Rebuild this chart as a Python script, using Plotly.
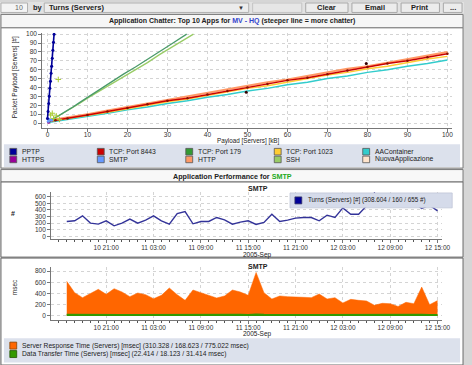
import plotly.graph_objects as go
import pandas as pd

W, H = 472, 365
FONT = "Liberation Sans, Arial, sans-serif"


def X(px):
    return px / W


def Y(py):
    return 1 - py / H


# ---------------- Chart 1: Application Chatter ----------------
app_names = ["PPTP", "TCP: Port 8443", "TCP: Port 179", "TCP: Port 1023", "AAContainer",
             "HTTPS", "SMTP", "HTTP", "SSH", "NuovaApplicazione"]
app_colors = ["#000099", "#cc0000", "#339933", "#ffcc33", "#33cccc",
              "#990099", "#6699ff", "#ff9966", "#99cc66", "#ffe4cc"]

pptp_x = [0.0, 0.15, 0.3, 0.45, 0.6, 0.75, 0.9, 1.05, 1.2, 1.35, 1.5, 1.65]
pptp_y = [5, 13, 22, 30, 39, 47, 56, 64, 73, 82, 91, 100]

low_x = [0.5, 2, 5, 10, 15, 20, 25, 30, 35, 40, 45, 50, 55, 60, 65, 70, 75, 80, 85, 90, 95, 100]
tcp8443_y = [2, 3, 5, 9, 13, 17, 21, 25, 28, 32, 36, 40, 44, 48, 51, 55, 59, 63, 67, 70, 74, 78]
http_y = [3, 4, 6, 10, 14, 18, 22, 26, 30, 34, 38, 42, 46, 49, 53, 57, 61, 64, 68, 72, 76, 80]
tcp1023_y = [2, 3, 5, 8, 12, 16, 20, 24, 27, 31, 35, 39, 42, 46, 50, 54, 57, 61, 64, 68, 72, 75]
aacont_y = [1, 2, 4, 8, 11, 15, 18, 22, 25, 29, 32, 36, 39, 43, 46, 50, 53, 57, 60, 64, 67, 71]

tcp179_x = [0.5, 2, 4, 6, 8, 10, 13, 16, 19, 22, 25, 28, 31, 34.8]
tcp179_y = [2, 6, 12, 17, 23, 29, 37, 46, 55, 63, 72, 80, 89, 100]
ssh_x = [0.5, 2, 4, 6, 8, 10, 13, 16, 19, 22, 25, 28, 31, 36.5]
ssh_y = [2, 6, 11, 17, 22, 28, 36, 44, 52, 60, 68, 77, 85, 100]
ssh_cluster_x = [0.8, 1.5, 2.2, 3.0, 1.2, 2.7]
ssh_cluster_y = [9, 5, 8, 4, 11, 49]
smtp_x = [0.2, 0.5, 1.0]
smtp_y = [2, 4, 3]
https_x = [0.3, 0.7]
https_y = [1, 3]
nuova_x = [0.4, 1.1]
nuova_y = [2, 2]
outlier_x = [49.7, 79.7]
outlier_y = [34.7, 67]

x1_ticks = [0, 10, 20, 30, 40, 50, 60, 70, 80, 90, 100]
y1_ticks = [0, 10, 20, 30, 40, 50, 60, 70, 80, 90, 100]

# ---------------- Chart 2 & 3: SMTP performance ----------------
times = pd.date_range("2005-09-10 16:00", periods=48, freq="h")
turns = [225, 235, 310, 200, 185, 235, 160, 200, 260, 200, 245, 310,
         235, 185, 345, 375, 190, 225, 225, 285, 250, 185, 215, 235,
         180, 210, 335, 225, 245, 275, 285, 285, 235, 320, 285, 430,
         335, 335, 460, 655, 510, 500, 585, 510, 510, 420, 470, 385]
resp = [616, 415, 326, 397, 474, 385, 486, 427, 344, 409, 379, 308,
        367, 498, 379, 278, 462, 415, 367, 320, 356, 462, 427, 367,
        775, 415, 302, 356, 344, 344, 332, 326, 391, 302, 326, 231,
        296, 278, 267, 190, 225, 219, 169, 243, 219, 515, 201, 273]
transfer = [24, 22, 21, 23, 25, 22, 20, 21, 23, 24, 22, 21,
            19, 22, 23, 25, 24, 22, 21, 20, 22, 23, 24, 22,
            31, 25, 22, 21, 20, 22, 23, 21, 22, 20, 21, 19,
            22, 21, 20, 18, 21, 22, 19, 23, 21, 24, 20, 22]
time_ticks = ["2005-09-10 21:00", "2005-09-11 03:00", "2005-09-11 09:00", "2005-09-11 15:00",
              "2005-09-11 21:00", "2005-09-12 03:00", "2005-09-12 09:00", "2005-09-12 15:00"]
turns_label = "Turns (Servers) [#] (308.604 / 160 / 655 #)"
resp_label = "Server Response Time (Servers) [msec] (310.328 / 168.623 / 775.022 msec)"
transfer_label = "Data Transfer Time (Servers) [msec] (22.414 / 18.123 / 31.414 msec)"
resp_color = "#ff6600"
transfer_color = "#339900"
turns_color = "#333399"

fig = go.Figure()

# chart 1 traces (draw order: lower bundle, greens, pptp)
C = dict(zip(app_names, app_colors))
fig.add_trace(go.Scatter(x=nuova_x, y=nuova_y, mode="markers", marker=dict(color=C["NuovaApplicazione"], size=3)))
fig.add_trace(go.Scatter(x=https_x, y=https_y, mode="markers", marker=dict(color=C["HTTPS"], size=3)))
fig.add_trace(go.Scatter(x=low_x, y=aacont_y, mode="lines", line=dict(color=C["AAContainer"], width=1.5)))
fig.add_trace(go.Scatter(x=low_x, y=tcp1023_y, mode="lines", line=dict(color=C["TCP: Port 1023"], width=1.5)))
fig.add_trace(go.Scatter(x=low_x, y=http_y, mode="lines", line=dict(color=C["HTTP"], width=2)))
fig.add_trace(go.Scatter(x=low_x, y=tcp8443_y, mode="lines+markers", line=dict(color=C["TCP: Port 8443"], width=1.5),
                         marker=dict(color="#881100", size=2.5)))
fig.add_trace(go.Scatter(x=outlier_x, y=outlier_y, mode="markers", marker=dict(color="#330000", size=3)))
fig.add_trace(go.Scatter(x=ssh_x, y=ssh_y, mode="lines", line=dict(color=C["SSH"], width=1.3)))
fig.add_trace(go.Scatter(x=tcp179_x, y=tcp179_y, mode="lines", line=dict(color="#4a9a6a", width=1.3)))
fig.add_trace(go.Scatter(x=ssh_cluster_x, y=ssh_cluster_y, mode="markers",
                         marker=dict(color="#bbdd44", size=4, symbol="cross-thin", line=dict(color="#aacc33", width=1))))
fig.add_trace(go.Scatter(x=smtp_x, y=smtp_y, mode="markers", marker=dict(color=C["SMTP"], size=3)))
fig.add_trace(go.Scatter(x=pptp_x, y=pptp_y, mode="lines+markers", line=dict(color=C["PPTP"], width=1.6),
                         marker=dict(color=C["PPTP"], size=3)))

# chart 2
fig.add_trace(go.Scatter(x=times, y=turns, mode="lines", line=dict(color=turns_color, width=1.4),
                         xaxis="x2", yaxis="y2"))
# chart 3
fig.add_trace(go.Scatter(x=times, y=resp, mode="lines", fill="tozeroy", fillcolor=resp_color,
                         line=dict(color=resp_color, width=0.5), xaxis="x3", yaxis="y3"))
fig.add_trace(go.Scatter(x=times, y=transfer, mode="lines", fill="tozeroy", fillcolor=transfer_color,
                         line=dict(color=transfer_color, width=1.5), xaxis="x3", yaxis="y3"))

fig.update_traces(showlegend=False, hoverinfo="skip")

GRID = dict(showgrid=True, gridcolor="#d4d4d4", griddash="dot", gridwidth=1, zeroline=False,
            showline=True, linecolor="#777777", linewidth=1, ticks="outside", ticklen=3,
            tickcolor="#777777", tickfont=dict(family=FONT, size=6.5, color="#333333"))

time_axis = dict(GRID, type="date", range=["2005-09-10 14:01", "2005-09-12 15:37"],
                 tickmode="array", tickvals=time_ticks, tickformat="%d %H:%M", ticklabelstandoff=-1,
                 minor=dict(ticks="outside", ticklen=2, dtick=3600000, tick0="2005-09-10 21:00",
                            tickcolor="#555555", showgrid=False))

fig.update_layout(
    width=W, height=H, autosize=False,
    margin=dict(l=0, r=0, t=0, b=0),
    paper_bgcolor="#d6d6d6", plot_bgcolor="white",
    font=dict(family=FONT, size=7, color="#222222"),
    showlegend=False,
    xaxis=dict(GRID, domain=[X(43), X(460)], range=[-1.3, 101.2], tickvals=x1_ticks, anchor="y",
               ticklabelstandoff=-3),
    yaxis=dict(GRID, domain=[Y(126.7), Y(31)], range=[-5.6, 101.5], tickvals=y1_ticks, anchor="x"),
    xaxis2=dict(time_axis, domain=[X(52), X(450)], anchor="y2"),
    yaxis2=dict(GRID, domain=[Y(238.5), Y(191)], range=[-42, 670], tickvals=[0, 100, 200, 300, 400, 500, 600],
                anchor="x2"),
    xaxis3=dict(time_axis, domain=[X(52), X(450)], anchor="y3"),
    yaxis3=dict(GRID, domain=[Y(319.3), Y(266)], range=[-64, 880], tickvals=[0, 200, 400, 600, 800],
                anchor="x3"),
)

shapes = []
ann = []


def rect(x0, y0, x1, y1, fill, line="#808080", lw=1, layer="below"):
    shapes.append(dict(type="rect", xref="paper", yref="paper", x0=X(x0), x1=X(x1), y0=Y(y1), y1=Y(y0),
                       fillcolor=fill, line=dict(color=line, width=lw), layer=layer))


def text(px, py, s, size=7, bold=False, anchor="left", color="#222222", angle=0):
    if bold:
        s = "<b>" + s + "</b>"
    ann.append(dict(xref="paper", yref="paper", x=X(px), y=Y(py), text=s, showarrow=False,
                    xanchor=anchor, yanchor="middle", textangle=angle,
                    font=dict(family=FONT, size=size, color=color)))


# toolbar
rect(0, 0, 472, 11.5, "#e2e2e2", line="#e2e2e2", lw=0)
rect(1, 1, 28, 10.5, "#f4f4f4", line="#b0b0b0")
text(25, 6, "10", 7, anchor="right", color="#666666")
text(32, 6, "by", 7.5, bold=True)
rect(45, 1, 253, 10.5, "#ececec", line="#b0b0b0")
text(48, 6, "Turns (Servers)", 7.5, bold=True)
text(245, 6, "▼", 6, anchor="center", color="#333333")
rect(257, 1, 307, 10.5, "#e6e6e6", line="#c4c4c4")
for bx0, bx1, lab in [(311, 354, "Clear"), (358, 404, "Email"), (408, 447, "Print"), (451, 470, "...")]:
    rect(bx0, 1, bx1, 10.5, "#ececec", line="#a8a8a8")
    text((bx0 + bx1) / 2, 6, lab, 7.5, bold=True, anchor="center")

# panel 1
rect(1, 12.5, 471, 26, "#f6f6f6", line="#7a7a7a")
text(236, 19.5, "Application Chatter: Top 10 Apps for <span style='color:#3344cc'>MV - HQ</span> "
     "(steeper line = more chatter)", 7, bold=True, anchor="center")
rect(1, 26, 471, 167, "white", line="#7a7a7a")
rect(4, 143, 468, 166, "#dce1ec", line="#dce1ec", lw=0)
cols = [10, 99, 189, 279, 369]
for i, (name, col) in enumerate(zip(app_names, app_colors)):
    cx = cols[i % 5]
    cy = 150.5 if i < 5 else 158.3
    rect(cx, cy - 3.3, cx + 7, cy + 3.3, col, line="#555555", lw=0.8, layer="above")
    text(cx + 10, cy, name, 6.8)
text(253, 140, "Payload [Servers] [kB]", 6.3, anchor="center")
text(15, 76, "Packet Payload [Servers] [#]", 6.5, anchor="center", angle=-90)

# panel 2 title
rect(1, 168.5, 471, 181, "#f8f8f8", line="#7a7a7a")
text(236, 175.5, "Application Performance for <span style='color:#22aa22'>SMTP</span>", 7.2, bold=True,
     anchor="center")
# chart 2 panel
rect(1, 181, 471, 256.5, "white", line="#6a6a6a")
text(262, 188, "SMTP", 7, bold=True, anchor="center")
text(13, 213, "#", 7, bold=True, anchor="center")
text(262, 254, "2005-Sep", 6.5, anchor="center")
rect(295, 192, 460, 207, "#d5dbea", line="#c0c6d8", lw=0.8, layer="above")
rect(300, 196, 307, 203, "#000099", line="#333366", lw=0.8, layer="above")
text(311, 199.5, turns_label, 6.3)

# chart 3 panel
rect(1, 257.5, 471, 365, "white", line="#6a6a6a")
text(262, 265.5, "SMTP", 7, bold=True, anchor="center")
text(15, 287, "msec", 6.5, anchor="center", angle=-90)
text(262, 334, "2005-Sep", 6.5, anchor="center")
rect(4, 338, 468, 362.5, "#dce1ec", line="#dce1ec", lw=0)
rect(10, 342, 17, 349, resp_color, line="#884400", lw=0.8, layer="above")
text(20, 345.5, resp_label, 6.7)
rect(10, 350.5, 17, 357.5, transfer_color, line="#225500", lw=0.8, layer="above")
text(20, 354, transfer_label, 6.7)

fig.update_layout(shapes=shapes, annotations=ann)
fig.write_html("out.html", config={"displayModeBar": False},
               post_script="document.body.style.margin='0';document.body.style.overflow='hidden';")
